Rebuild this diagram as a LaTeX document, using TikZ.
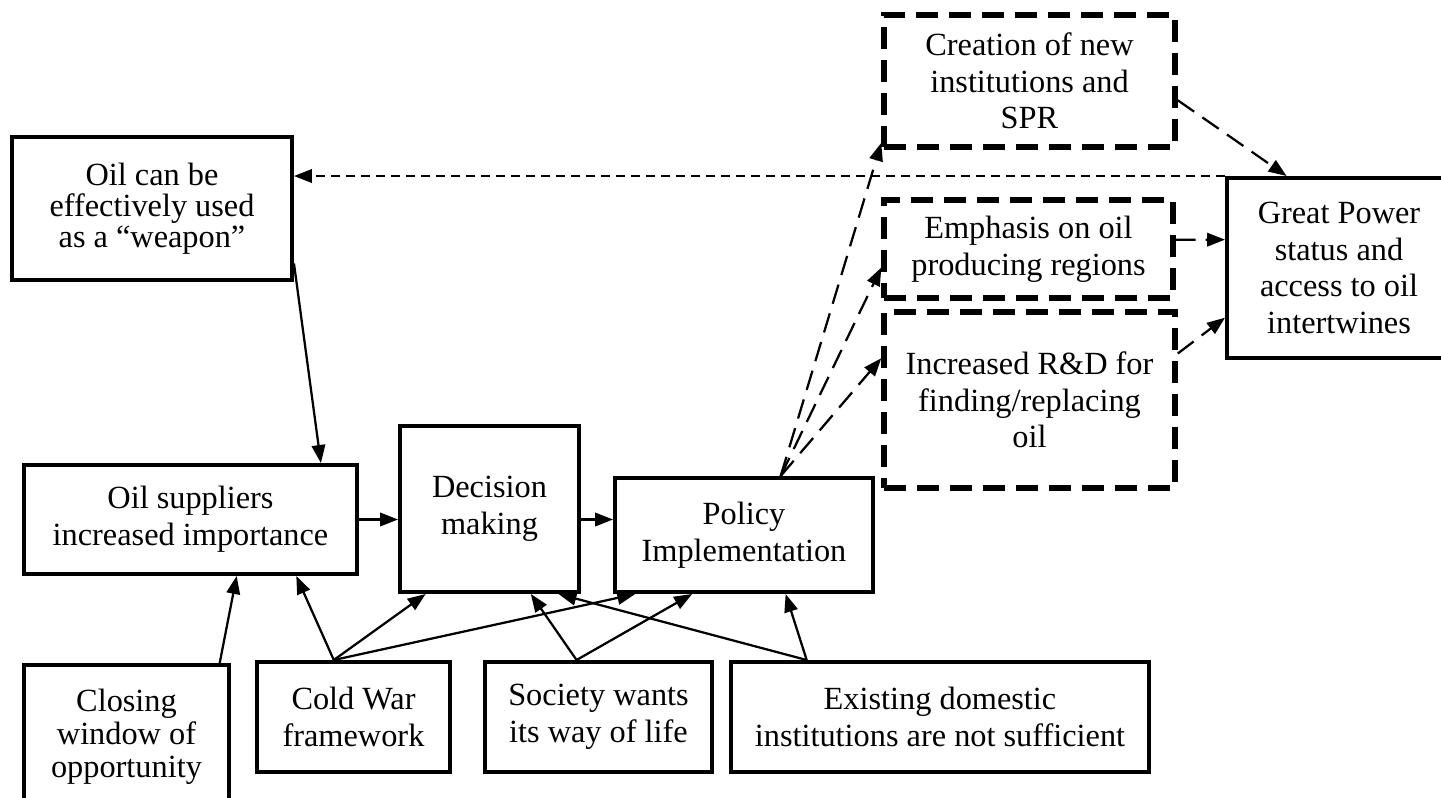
\documentclass[tikz,border=0pt]{standalone}
\usepackage{fontspec}
\setmainfont{Liberation Serif}
\usepackage{tikz}
\usetikzlibrary{arrows.meta, calc}

\newcommand{\boxfont}{\fontsize{18.4}{20.9}\selectfont}

\begin{document}
\begin{tikzpicture}[x=0.02cm, y=-0.02cm,
  box/.style={draw, line width=0.08cm, align=center, inner sep=0pt, font=\boxfont},
  dbox/.style={box, line width=0.11cm, dash pattern=on 0.44cm off 0.22cm},
  arr/.style={-{Triangle[length=0.36cm, width=0.27cm]}, line width=0.045cm},
  darr/.style={arr, dash pattern=on 0.4cm off 0.2cm},
  farr/.style={arr, dash pattern=on 0.18cm off 0.12cm}
]
  \useasboundingbox (0,0) rectangle (1441,798);

  % upper row
  \node[box, minimum width=5.6cm, minimum height=2.86cm,
        font=\fontsize{18.4}{17.8}\selectfont] (weapon) at (152,208.5)
        {Oil can be\\effectively used\\as a ``weapon''};
  \node[box, minimum width=6.66cm, minimum height=2.18cm] (suppliers) at (190.5,519.5)
        {Oil suppliers\\increased importance};
  \node[box, minimum width=3.58cm, minimum height=3.32cm] (decision) at (489.5,509)
        {Decision\\making};
  \node[box, minimum width=5.16cm, minimum height=2.28cm] (policy) at (744,535)
        {Policy\\Implementation};

  % bottom row
  \node[box, minimum width=4.1cm, minimum height=2.88cm,
        font=\fontsize{18.4}{18.8}\selectfont] (closing) at (126.5,737)
        {Closing\\window of\\opportunity};
  \node[box, minimum width=3.86cm, minimum height=2.2cm] (coldwar) at (353.5,717)
        {Cold War\\framework};
  \node[box, minimum width=4.54cm, minimum height=2.2cm] (society) at (598.5,717)
        {Society wants\\its way of life};
  \node[box, minimum width=8.36cm, minimum height=2.2cm] (existing) at (940,717)
        {Existing domestic\\institutions are not sufficient};

  % outcomes
  \node[dbox, minimum width=5.82cm, minimum height=2.64cm] (creation) at (1029.5,81)
        {Creation of new\\institutions and\\SPR};
  \node[dbox, minimum width=5.78cm, minimum height=1.96cm] (emphasis) at (1028.5,249)
        {Emphasis on oil\\producing regions};
  \node[dbox, minimum width=5.82cm, minimum height=3.52cm] (rd) at (1029.5,400)
        {Increased R\&D for\\finding/replacing\\oil};
  \node[box, minimum width=4.48cm, minimum height=3.6cm] (gp) at (1339,268)
        {Great Power\\status and\\access to oil\\intertwines};

  % main chain
  \draw[farr] (gp.north west) -- (weapon.east |- gp.north west);
  \draw[arr] ($(weapon.north east)!0.874!(weapon.south east)$)
          -- ($(suppliers.north west)!0.887!(suppliers.north east)$);
  \draw[arr] (suppliers.east) -- (suppliers.east -| decision.west);
  \draw[arr] (decision.east |- suppliers.east) -- (suppliers.east -| policy.west);

  % factors from below
  \draw[arr] ($(closing.north west)!0.946!(closing.north east)$)
          -- ($(suppliers.south west)!0.637!(suppliers.south east)$);
  \draw[arr] ($(coldwar.north west)!0.4!(coldwar.north east)$)
          -- ($(suppliers.south west)!0.814!(suppliers.south east)$);
  \draw[arr] ($(coldwar.north west)!0.4!(coldwar.north east)$)
          -- ($(decision.south west)!0.151!(decision.south east)$);
  \draw[arr] ($(coldwar.north west)!0.4!(coldwar.north east)$)
          -- ($(policy.south west)!0.085!(policy.south east)$);
  \draw[arr] ($(society.north west)!0.405!(society.north east)$)
          -- ($(decision.south west)!0.726!(decision.south east)$);
  \draw[arr] ($(society.north west)!0.405!(society.north east)$)
          -- ($(policy.south west)!0.302!(policy.south east)$);
  \draw[arr] ($(existing.north west)!0.184!(existing.north east)$)
          -- ($(decision.south west)!0.877!(decision.south east)$);
  \draw[arr] ($(existing.north west)!0.184!(existing.north east)$)
          -- ($(policy.south west)!0.659!(policy.south east)$);

  % policy outcomes
  \draw[darr] ($(policy.north west)!0.64!(policy.north east)$)
          -- ($(creation.north west)!0.95!(creation.south west)$);
  \draw[darr] ($(policy.north west)!0.64!(policy.north east)$)
          -- ($(emphasis.north west)!0.68!(emphasis.south west)$);
  \draw[darr] ($(policy.north west)!0.64!(policy.north east)$)
          -- ($(rd.north west)!0.27!(rd.south west)$);

  \draw[darr] ($(creation.north east)!0.64!(creation.south east)$)
          -- ($(gp.north west)!0.27!(gp.north east)$);
  \draw[darr] ($(emphasis.north east)!0.41!(emphasis.south east)$)
          -- ($(gp.north west)!0.346!(gp.south west)$);
  \draw[darr] ($(rd.north east)!0.244!(rd.south east)$)
          -- ($(gp.north west)!0.77!(gp.south west)$);
\end{tikzpicture}
\end{document}
